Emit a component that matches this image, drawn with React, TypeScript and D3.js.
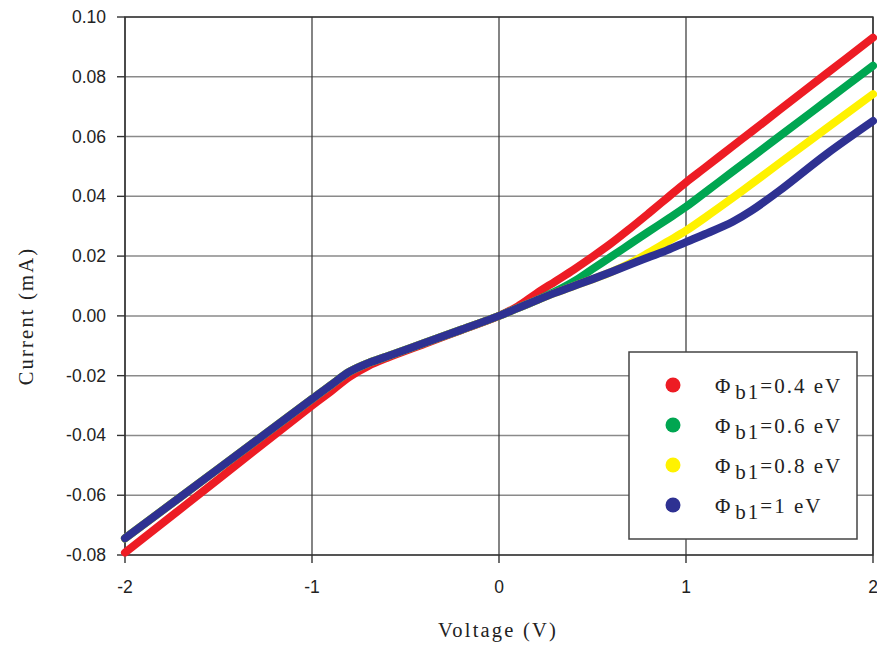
import * as d3 from 'd3'

const voltage = [-2, -1.5, -1, -0.9, -0.8, -0.7, -0.6, -0.4, -0.2, 0, 0.1, 0.2, 0.3, 0.4, 0.5, 0.6, 0.7, 0.8, 0.9, 1.0, 1.1, 1.25, 1.35, 1.5, 1.75, 2]

const phi04 = [-0.0792, -0.0546, -0.03, -0.0253, -0.0204, -0.0168, -0.0141, -0.0094, -0.0047, 0, 0.0032, 0.0075, 0.0115, 0.0155, 0.0198, 0.0243, 0.0292, 0.0343, 0.0395, 0.0447, 0.0495, 0.0568, 0.0616, 0.0689, 0.081, 0.0931]
const phi06 = [-0.0744, -0.0511, -0.0278, -0.0232, -0.0187, -0.0158, -0.0136, -0.0091, -0.0046, 0, 0.0026, 0.0052, 0.0081, 0.0115, 0.0157, 0.0198, 0.024, 0.0282, 0.0323, 0.0365, 0.0412, 0.0483, 0.053, 0.0601, 0.0719, 0.0837]
const phi08 = [-0.0744, -0.0511, -0.0278, -0.0232, -0.0187, -0.0158, -0.0136, -0.0091, -0.0046, 0, 0.0026, 0.0052, 0.0077, 0.01, 0.0123, 0.0147, 0.0176, 0.0211, 0.0248, 0.0285, 0.0328, 0.0395, 0.0441, 0.0511, 0.0627, 0.0742]
const phi10 = [-0.0744, -0.0511, -0.0278, -0.0232, -0.0187, -0.0158, -0.0136, -0.0091, -0.0046, 0, 0.0026, 0.0052, 0.0077, 0.01, 0.0123, 0.0147, 0.0172, 0.0196, 0.022, 0.0247, 0.0273, 0.0315, 0.0352, 0.0419, 0.0541, 0.0652]

const seriesLabels = ['=0.4 eV', '=0.6 eV', '=0.8 eV', '=1 eV']
const seriesColors = ['#ED1C24', '#00A651', '#FFF200', '#2E3192']
const seriesValues = [phi04, phi06, phi08, phi10]

const xTicks = [-2, -1, 0, 1, 2]
const yTicks = [-0.08, -0.06, -0.04, -0.02, 0, 0.02, 0.04, 0.06, 0.08, 0.1]

const W = 877
const H = 645
const margin = { left: 125, right: 4, top: 17, bottom: 90 }

const locale = d3.formatLocale({ decimal: '.', thousands: ',', grouping: [3], currency: ['', ''], minus: '-' })
const fmtY = locale.format('.2f')
const fmtX = locale.format('d')

export default function App() {
  const x = d3.scaleLinear().domain([-2, 2]).range([margin.left, W - margin.right])
  const y = d3.scaleLinear().domain([-0.08, 0.1]).range([H - margin.bottom, margin.top])

  const line = d3
    .line<number>()
    .x((_, i) => x(voltage[i]))
    .y((d) => y(d))
    .curve(d3.curveCatmullRom.alpha(0.5))

  const [x0, x1] = x.range()
  const [yb, yt] = y.range()
  const sans = '"Liberation Sans", Arial, sans-serif'
  const serif = '"Liberation Serif", "Times New Roman", serif'

  const lg = { x: 629, y: 352, w: 228, h: 187 }

  return (
    <svg width={W} height={H} style={{ position: 'absolute', left: 0, top: 0, background: '#fff' }}>
      {/* horizontal grid */}
      {yTicks.map((t) => (
        <line key={'h' + t} x1={x0} x2={x1} y1={y(t)} y2={y(t)} stroke="#8a8a8a" strokeWidth={1.5} />
      ))}
      {/* vertical grid */}
      {xTicks.map((t) => (
        <line key={'v' + t} x1={x(t)} x2={x(t)} y1={yt} y2={yb} stroke="#333" strokeWidth={1.2} />
      ))}
      <rect x={x0} y={yt} width={x1 - x0} height={yb - yt} fill="none" stroke="#333" strokeWidth={1.4} />

      {/* ticks and labels */}
      {yTicks.map((t) => (
        <g key={'yt' + t}>
          <line x1={x0 - 8} x2={x0} y1={y(t)} y2={y(t)} stroke="#333" strokeWidth={1.4} />
          <text x={106} y={y(t) + 6} textAnchor="end" fontFamily={sans} fontSize={17.5} fill="#222">
            {fmtY(t)}
          </text>
        </g>
      ))}
      {xTicks.map((t) => (
        <g key={'xt' + t}>
          <line x1={x(t)} x2={x(t)} y1={yb} y2={yb + 8} stroke="#333" strokeWidth={1.4} />
          <text x={x(t)} y={593} textAnchor="middle" fontFamily={sans} fontSize={17.5} fill="#222">
            {fmtX(t)}
          </text>
        </g>
      ))}

      {/* curves */}
      {seriesValues.map((vals, i) => (
        <path
          key={'s' + i}
          d={line(vals) ?? ''}
          fill="none"
          stroke={seriesColors[i]}
          strokeWidth={8}
          strokeLinecap="round"
          strokeLinejoin="round"
        />
      ))}

      {/* axis titles */}
      <text x={498} y={637} textAnchor="middle" fontFamily={serif} fontSize={20.5} letterSpacing={2.2} fill="#222">
        Voltage (V)
      </text>
      <text
        transform="translate(33,316) rotate(-90)"
        textAnchor="middle"
        fontFamily={serif}
        fontSize={20.5}
        letterSpacing={2.2}
        fill="#222"
      >
        Current (mA)
      </text>

      {/* legend */}
      <rect x={lg.x} y={lg.y} width={lg.w} height={lg.h} fill="#fff" stroke="#444" strokeWidth={1.5} />
      {seriesLabels.map((label, i) => {
        const cy = 385 + i * 40
        return (
          <g key={'lg' + i}>
            <circle cx={673} cy={cy} r={7.5} fill={seriesColors[i]} />
            <text x={715} y={cy + 7.5} fontFamily={serif} fontSize={21} letterSpacing={2} fill="#222">
              Φ
              <tspan dx={3} dy={6}>b1</tspan>
              <tspan dy={-6}>{label}</tspan>
            </text>
          </g>
        )
      })}
    </svg>
  )
}
